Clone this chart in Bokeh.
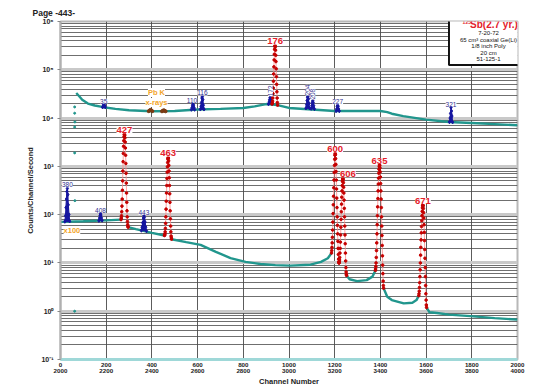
import numpy as np
from bokeh.plotting import figure
from bokeh.models import FixedTicker, CustomJSTickFormatter, Label
from bokeh.embed import file_html
from bokeh.resources import INLINE

nan = float("nan")

# ---------------- data ----------------
x_ticks = [2000, 2200, 2400, 2600, 2800, 3000, 3200, 3400, 3600, 3800, 4000]
y_ticks = [0.1, 1, 10, 100, 1000, 1e4, 1e5, 1e6]

# direct spectrum continuum
upper_ch = [2069, 2080, 2095, 2120, 2150, 2182, 2240, 2300, 2400, 2500, 2600, 2700,
            2800, 2850, 2900, 2950, 3000, 3100, 3200, 3300, 3400, 3430, 3450, 3500,
            3600, 3700, 3800, 3900, 4000]
upper_val = [33000, 29000, 24000, 20000, 18200, 17000, 15500, 14500, 13800, 14000,
             15000, 15500, 16200, 17500, 19500, 18600, 16200, 15000, 14000, 14000,
             14000, 13300, 12300, 11000, 9300, 8300, 7900, 7500, 7100]

# x100 spectrum continuum (gaps where the red peaks are)
lower_ch = [2000, 2100, 2200, 2265, nan,
            2296, 2330, 2400, 2455, nan,
            2486, 2550, 2613, 2680, 2744, 2810, 2875, 2940, 3006, 3094, 3140, 3170, 3186, nan,
            3252, 3265, 3298, 3340, 3365, 3378, nan,
            3414, 3430, 3450, 3502, 3540, 3558, 3568, nan,
            3602, 3615, 3648, 3700, 3794, 3900, 4000]
lower_val = [71, 73, 76, 79, nan,
             55, 50, 42, 37, nan,
             31, 27, 23.7, 17, 12.6, 10.5, 9.5, 9.0, 8.8, 9.2, 10.5, 12.5, 16, nan,
             5.5, 4.6, 4.2, 4.4, 5.2, 7, nan,
             3.0, 2.0, 1.7, 1.45, 1.5, 1.7, 2.1, nan,
             1.2, 0.95, 0.92, 0.85, 0.79, 0.72, 0.67]

# sparse points on the rising edge at the start
edge_ch = [2062, 2062, 2063, 2062, 2062, 2063, 2062]
edge_val = [17000, 12600, 8300, 6500, 1900, 195, 1.0]

# red (125Sb) peaks, channel by channel
p176_ch = list(range(2926, 2951))
p176_val = [19500, 20500, 22500, 26000, 32000, 42000, 58000, 82000, 115000, 160000,
            210000, 265000, 305000, 320000, 300000, 255000, 200000, 148000, 105000,
            72000, 50000, 35000, 26000, 21000, 18500]
p427_ch = list(range(2265, 2297))
p427_val = [79, 85, 95, 115, 150, 210, 320, 500, 800, 1250, 1850, 2600, 3400, 4100,
            4550, 4650, 4400, 3900, 3200, 2400, 1700, 1150, 720, 450, 280, 180, 120,
            90, 72, 62, 57, 55]
p463_ch = list(range(2455, 2487))
p463_val = [37, 38, 40, 44, 52, 66, 90, 130, 190, 280, 400, 560, 760, 980, 1200, 1420,
            1530, 1480, 1300, 1050, 800, 580, 400, 270, 180, 120, 82, 58, 44, 36, 33, 31]
p600_ch = list(range(3186, 3220))
p600_val = [16, 18, 21, 26, 34, 48, 70, 105, 160, 240, 360, 520, 750, 1050, 1400, 1700,
            1860, 1750, 1450, 1100, 780, 520, 340, 220, 140, 90, 60, 40, 28, 20, 15, 12,
            10.5, 10]
p606_ch = list(range(3219, 3253))
p606_val = [10, 10.5, 11.5, 13, 16, 20, 27, 38, 55, 80, 115, 165, 230, 310, 400, 490,
            550, 565, 530, 460, 370, 280, 200, 135, 90, 58, 38, 25, 16, 11, 8, 6.5, 5.8, 5.5]
p635_ch = list(range(3378, 3415))
p635_val = [7, 7.5, 8.5, 10, 13, 18, 26, 40, 62, 95, 145, 215, 310, 430, 570, 720, 870,
            990, 1070, 1040, 930, 770, 600, 440, 310, 210, 140, 90, 58, 37, 23, 14, 9,
            6, 4.2, 3.4, 3.0]
p671_ch = list(range(3568, 3603))
p671_val = [2.1, 2.3, 2.6, 3.1, 3.9, 5.2, 7.2, 10, 14.5, 21, 30, 42, 57, 75, 95, 117,
            138, 153, 159, 152, 134, 110, 85, 62, 43, 29, 19, 12.5, 8, 5.2, 3.4, 2.3,
            1.7, 1.35, 1.2]

# blue (other) peaks
b35_ch = [2184, 2187, 2189, 2191, 2193, 2196]
b35_val = [16800, 17800, 18800, 18800, 17800, 16800]
b110_ch = [2573, 2576, 2578, 2580, 2582, 2584, 2587]
b110_val = [15000, 16500, 18500, 19500, 18500, 16500, 15000]
b116_ch = [2612, 2615, 2617, 2619, 2621, 2623, 2625, 2628]
b116_val = [15200, 17500, 21000, 26000, 28000, 24000, 18500, 15200]
b172_ch = [2910, 2913, 2915, 2917, 2919, 2921, 2923, 2926]
b172_val = [19500, 21500, 24000, 26500, 27000, 25000, 22000, 20000]
b204_ch = [3074, 3077, 3079, 3081, 3083, 3085, 3087, 3090]
b204_val = [16000, 19000, 23000, 27000, 28000, 25000, 20000, 16000]
b208_ch = [3097, 3100, 3102, 3104, 3106, 3108, 3111]
b208_val = [15700, 18000, 21000, 23000, 21000, 18000, 15500]
b227_ch = [3206, 3209, 3211, 3213, 3215, 3217, 3220]
b227_val = [14000, 15500, 17500, 18500, 17500, 15500, 14000]
b321_ch = [3702, 3705, 3707, 3709, 3711, 3713, 3716]
b321_val = [8300, 10000, 12500, 16500, 14000, 11000, 8200]
b380_ch = [2019, 2022, 2024, 2026, 2028, 2030, 2032, 2034, 2037, 2040]
b380_val = [72, 95, 140, 210, 300, 350, 260, 160, 100, 73]
b408_ch = [2168, 2171, 2173, 2175, 2177, 2179, 2182]
b408_val = [75, 85, 96, 105, 98, 86, 76]
b443_ch = [2354, 2357, 2360, 2363, 2365, 2367, 2370, 2373, 2376]
b443_val = [47, 55, 68, 85, 95, 88, 70, 55, 46]

# Pb K x-rays
pb1_ch = [2386, 2390, 2394, 2398, 2402]
pb1_val = [13900, 14400, 14800, 14400, 13900]
pb2_ch = [2444, 2448, 2452, 2456, 2460]
pb2_val = [13800, 14200, 14500, 14200, 13800]

red_names = ["176", "427", "463", "600", "606", "635", "671"]
blue_names = ["35", "110", "116", "172", "204", "208", "227", "321", "380", "408", "443"]

legend_title_sup = "125"
legend_title = "Sb(2.7 yr.)"
legend_lines = ["7-20-72", "65 cm³ coaxial Ge(Li)", "1/8 inch Poly", "20 cm", "51-125-1"]

# ---------------- figure ----------------
W, H = 539, 388
BL, BR, BT, BB = 60, 22, 21, 27

FONT = "Liberation Sans"
TEAL = "#21968d"
RED_DOT = "#c40000"
RED_LINE = "#ff8a8a"
BLUE = "#1616a0"
RED_TXT = "#e3202a"
BLUE_TXT = "#303090"
ORANGE = "#f2a52a"

p = figure(width=W, height=H, x_range=(2000, 4000), y_range=(0.1, 1e6),
           y_axis_type="log", output_backend="svg", toolbar_location=None,
           min_border_left=BL, min_border_right=BR, min_border_top=BT, min_border_bottom=BB,
           title="Page -443-")
p.title.align = "left"
p.title.offset = -28
p.title.standoff = 8
p.title.text_font = FONT
p.title.text_font_style = "bold"
p.title.text_font_size = "8.5px"
p.title.text_color = "#222222"

p.outline_line_color = "#b8b8b8"
p.outline_line_width = 2
p.background_fill_color = "white"

minor = [m * 10.0 ** e for e in range(-1, 6) for m in range(2, 10)]
yt = FixedTicker(ticks=y_ticks, minor_ticks=minor)
p.yaxis.ticker = yt
p.ygrid.ticker = yt
p.yaxis.formatter = CustomJSTickFormatter(code="""
const e = Math.round(Math.log10(tick));
const s = {'-':'\u207b','0':'\u2070','1':'\u00b9','2':'\u00b2','3':'\u00b3','4':'\u2074','5':'\u2075','6':'\u2076','7':'\u2077','8':'\u2078','9':'\u2079'};
return '10' + String(e).split('').map(c => s[c]).join('');
""")
xt = FixedTicker(ticks=x_ticks)
p.xaxis.ticker = xt
p.xgrid.ticker = xt
p.xaxis.formatter = CustomJSTickFormatter(code="return (tick - 2000) + '\\n' + tick;")

p.ygrid.grid_line_color = "#c9c9c9"
p.ygrid.grid_line_width = 3
p.ygrid.minor_grid_line_color = "#4a4a4a"
p.ygrid.minor_grid_line_width = 0.8
p.xgrid.grid_line_color = "#4a4a4a"
p.xgrid.grid_line_width = 0.9

for ax in (p.xaxis, p.yaxis):
    ax.major_label_text_font = FONT
    ax.major_label_text_font_style = "bold"
    ax.major_label_text_color = "#222222"
    ax.axis_label_text_font = FONT
    ax.axis_label_text_font_style = "bold"
    ax.axis_label_text_color = "#222222"
    ax.minor_tick_line_color = None
    ax.major_tick_in = 0

p.xaxis.axis_label = "Channel Number"
p.xaxis.axis_label_text_font_size = "7.5px"
p.xaxis.major_label_text_font_size = "6.2px"
p.xaxis.axis_line_color = "#9fd8d8"
p.xaxis.axis_line_width = 3
p.xaxis.major_tick_line_color = None
p.xaxis.major_tick_out = 0
p.xaxis.major_label_standoff = 1
p.xaxis.axis_label_standoff = 0
p.xaxis.major_label_text_line_height = 0.9

p.yaxis.axis_label = "Counts/Channel/Second"
p.yaxis.axis_label_text_font_size = "7.5px"
p.yaxis.major_label_text_font_size = "7px"
p.yaxis.axis_line_color = "#b0b0b0"
p.yaxis.axis_line_width = 2
p.yaxis.major_tick_line_color = "#888888"
p.yaxis.major_tick_out = 3
p.yaxis.major_label_standoff = 3
p.yaxis.axis_label_standoff = 3

# continua
p.line(upper_ch, upper_val, color=TEAL, line_width=2.4)
p.line(lower_ch, lower_val, color=TEAL, line_width=2.4)
p.scatter(edge_ch, edge_val, size=2, color=TEAL)

# blue peaks
blue_peaks = [(b35_ch, b35_val), (b110_ch, b110_val), (b116_ch, b116_val),
              (b172_ch, b172_val), (b204_ch, b204_val), (b208_ch, b208_val),
              (b227_ch, b227_val), (b321_ch, b321_val), (b380_ch, b380_val),
              (b408_ch, b408_val), (b443_ch, b443_val)]
for ch, val in blue_peaks:
    p.patch(ch, val, color=BLUE, line_width=1.2)
    p.scatter(ch, val, size=3.5, marker="diamond", color=BLUE)

# Pb K x-rays
for ch, val in [(pb1_ch, pb1_val), (pb2_ch, pb2_val)]:
    p.line(ch, val, color="#7a3a12", line_width=1)
    p.scatter(ch, val, size=3, color="#7a3a12")

# red peaks
red_peaks = [(p176_ch, p176_val), (p427_ch, p427_val), (p463_ch, p463_val),
             (p600_ch, p600_val), (p606_ch, p606_val), (p635_ch, p635_val),
             (p671_ch, p671_val)]
for ch, val in red_peaks:
    p.line(ch, val, color=RED_LINE, line_width=0.8)
    p.scatter(ch, val, size=2.6, color=RED_DOT)

# red peak labels (at each peak top)
red_xoff = {"606": 5}
for name, (ch, val) in zip(red_names, red_peaks):
    i = int(np.argmax(val))
    p.add_layout(Label(x=ch[i], y=val[i], text=name, text_align="center",
                       text_baseline="bottom", y_offset=1, x_offset=red_xoff.get(name, 0),
                       text_font=FONT, text_font_style="bold", text_font_size="9.5px",
                       text_color=RED_TXT, background_fill_color="white",
                       text_line_height=1.0))

rotated = {"172", "204", "208"}
blue_xoff = {"110": -1}
for name, (ch, val) in zip(blue_names, blue_peaks):
    i = int(np.argmax(val))
    if name in rotated:
        p.add_layout(Label(x=ch[i], y=val[i], text=name, angle=np.pi / 2,
                           text_align="left", text_baseline="middle", y_offset=1,
                           text_font=FONT, text_font_size="6.5px", text_color=BLUE_TXT,
                           background_fill_color="white", text_line_height=1.0))
    else:
        p.add_layout(Label(x=ch[i], y=val[i], text=name, text_align="center",
                           text_baseline="bottom", y_offset=1, x_offset=blue_xoff.get(name, 0),
                           text_font=FONT, text_font_size="6.5px", text_color=BLUE_TXT,
                           background_fill_color="white", text_line_height=1.0))

# orange annotations
for txt, x, y in [("Pb K", 2420, 34000), ("x-rays", 2420, 21000), ("x100", 2050, 47)]:
    p.add_layout(Label(x=x, y=y, text=txt, text_align="center", text_baseline="middle",
                       text_font=FONT, text_font_style="bold", text_font_size="7.5px",
                       text_color=ORANGE, background_fill_color="white",
                       text_line_height=1.0))

# legend box (anchored inside the frame at its bottom edge)
p.add_layout(Label(x=3873, y=1.26e5, text="\n".join(legend_lines),
                   text_align="center", text_baseline="bottom",
                   text_font=FONT, text_font_size="6px", text_color="#111111",
                   text_line_height=1.06, background_fill_color="white",
                   border_line_color="#111111", border_line_width=2,
                   padding=dict(left=11, right=11, top=17, bottom=3)))
p.add_layout(Label(x=3897, y=8.6e5, text=legend_title, text_align="center",
                   text_baseline="middle", text_font=FONT, text_font_style="bold",
                   text_font_size="10px", text_color=RED_TXT))
p.add_layout(Label(x=3778, y=9.0e5, text=legend_title_sup, text_align="center",
                   text_baseline="bottom", text_font=FONT, text_font_style="bold",
                   text_font_size="5px", text_color=RED_TXT))

open("out.html", "w").write(file_html(p, INLINE))
